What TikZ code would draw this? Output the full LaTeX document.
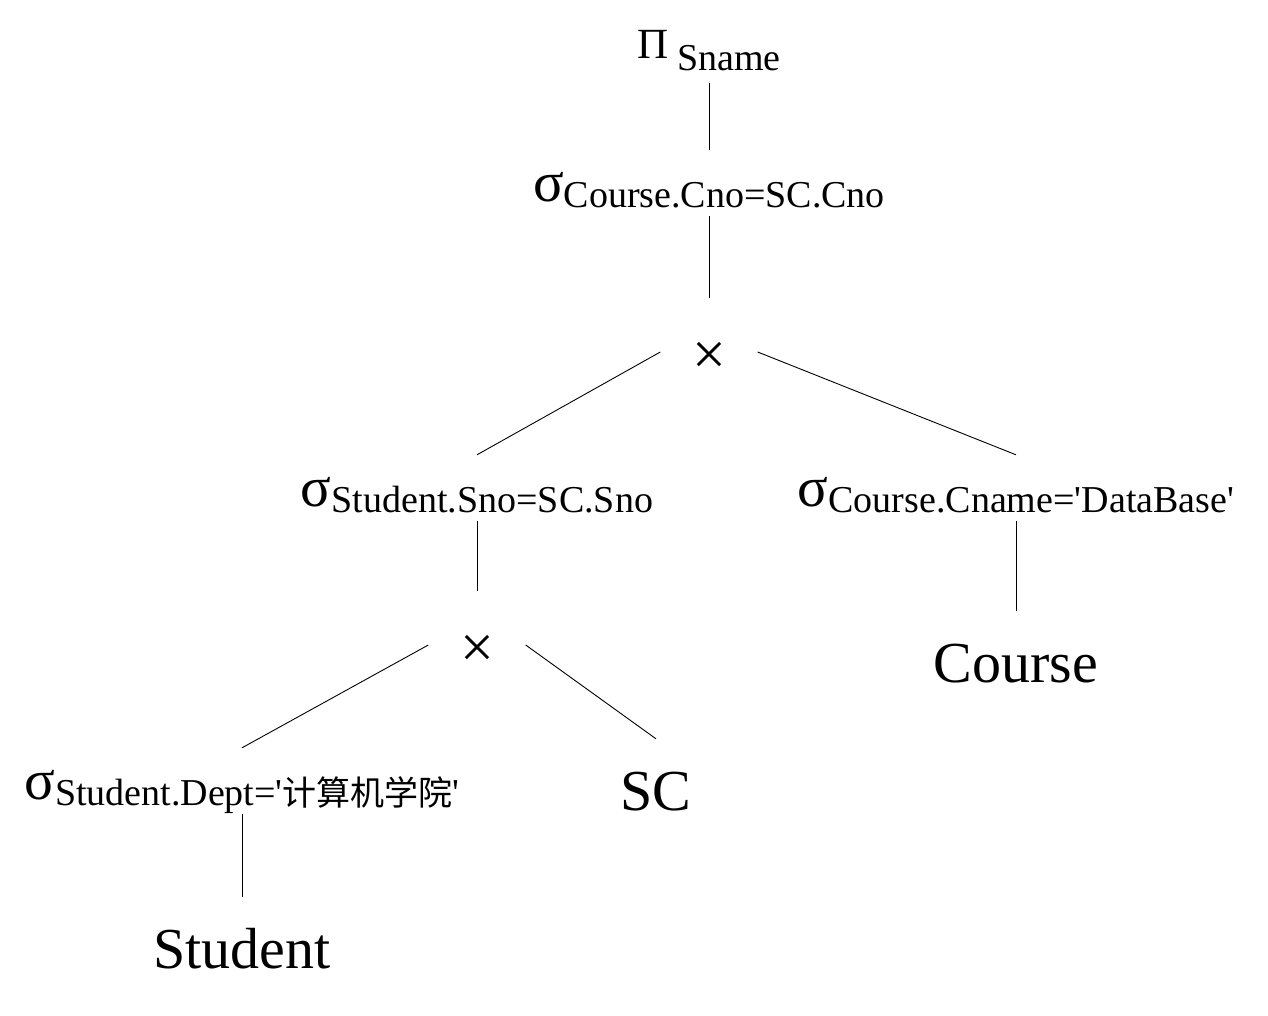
\documentclass[tikz,border=0pt]{standalone}
\usepackage{fontspec}
\setmainfont{Liberation Serif}
\newfontfamily\qfont{Liberation Serif}
\newfontfamily\cjk{Noto Sans CJK SC}
\usetikzlibrary{positioning}
\tikzset{
  opnode/.style={inner sep=0pt,anchor=base,text height=51pt,text depth=15pt},
  projnode/.style={inner sep=0pt,anchor=base,text depth=25pt},
  crossnode/.style={inner sep=0pt,minimum width=97pt,minimum height=107pt},
  timesign/.style={inner sep=0pt,font=\fontsize{60}{64}\selectfont},
  relnode/.style={inner sep=0pt,anchor=base,text height=71pt,font=\fontsize{58}{66}\selectfont},
  edge/.style={draw=black,line width=0.9pt},
}
\newcommand{\quo}{{\qfont '}}
\newcommand{\subtxt}[1]{\raisebox{-6pt}{\fontsize{38}{44}\selectfont #1}}
\newcommand{\selop}[1]{{\fontsize{57}{64}\selectfont σ}\subtxt{#1}}
\newcommand{\projop}[1]{{\fontsize{43}{48}\selectfont Π}\hspace{9pt}\raisebox{-6pt}{\subtxt{#1}}}

\begin{document}
\begin{tikzpicture}[x=1pt,y=-1pt]
  \useasboundingbox (0,0) rectangle (1268,1015);
  % operators
  \node[projnode] (proj) at (709,58) {\projop{Sname}};
  \node[opnode] (selC) at (709,201) {\selop{Course.Cno=SC.Cno}};
  \node[crossnode] (crossA) at (709,352) {};
  \node[crossnode] (crossB) at (477,645) {};
  \node[opnode] (selS) at (477,506) {\selop{Student.Sno=SC.Sno}};
  \node[opnode] (selN) at (1016,506) {\selop{Course.Cname=\quo DataBase\quo}};
  \node[opnode] (selD) at (242,799) {\selop{Student.Dept=\quo{\cjk\fontsize{34}{40}\selectfont 计算机学院}\quo}};
  % the × signs
  \node[timesign] (timesA) at ([yshift=-6pt]crossA.center) {×};
  \node[timesign] (timesB) at ([yshift=-6pt]crossB.center) {×};
  % relations
  \node[relnode] (sc) at (656,810) {SC};
  \node[relnode] (course) at (1016,682) {Course};
  \node[relnode] (student) at (242,968) {Student};
  % edges
  \draw[edge] (proj.south) -- (selC.north);
  \draw[edge] (selC.south) -- (crossA.north);
  \draw[edge] (crossA.west) -- (selS.north);
  \draw[edge] (crossA.east) -- (selN.north);
  \draw[edge] (selS.south) -- (crossB.north);
  \draw[edge] (selN.south) -- (course.north);
  \draw[edge] (crossB.west) -- (selD.north);
  \draw[edge] (crossB.east) -- (sc.north);
  \draw[edge] (selD.south) -- (student.north);
\end{tikzpicture}
\end{document}
